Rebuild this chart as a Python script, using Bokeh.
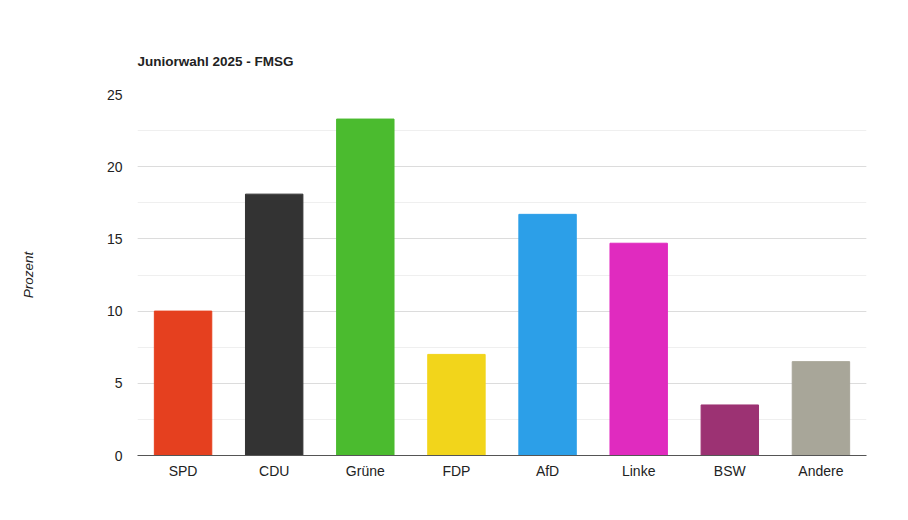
from bokeh.plotting import figure
from bokeh.models import ColumnDataSource, SingleIntervalTicker, FactorRange
from bokeh.embed import file_html
from bokeh.resources import INLINE

parties = ["SPD", "CDU", "Grüne", "FDP", "AfD", "Linke", "BSW", "Andere"]
values = [10.0, 18.1, 23.3, 7.0, 16.7, 14.7, 3.5, 6.5]
colors = ["#E5401F", "#333333", "#4BBB2F", "#F2D51B", "#2C9FE8", "#E02BBF", "#9C3273", "#A8A699"]

src = ColumnDataSource(dict(party=parties, value=values, color=colors))

p = figure(x_range=FactorRange(*parties, range_padding=0), y_range=(0, 25),
           width=900, height=512, output_backend="svg", toolbar_location=None,
           min_border_left=137, min_border_right=34, min_border_top=94, min_border_bottom=57,
           title="Juniorwahl 2025 - FMSG")
p.vbar(x="party", top="value", width=0.63, color="color", source=src)

p.title.text_font = "Liberation Sans"
p.title.text_font_size = "13.5px"
p.title.text_font_style = "bold"
p.title.text_color = "#222222"
p.title.standoff = 51
p.title.offset = 0

p.outline_line_color = None
p.xgrid.grid_line_color = None
p.yaxis.ticker = SingleIntervalTicker(interval=5, num_minor_ticks=2)
p.ygrid.grid_line_color = "#dcdcdc"
p.ygrid.minor_grid_line_color = "#efefef"

for ax in (p.xaxis, p.yaxis):
    ax.major_tick_line_color = None
    ax.minor_tick_line_color = None
    ax.major_label_text_font = "Liberation Sans"
    ax.major_label_text_font_size = "14px"
    ax.major_label_text_color = "#222222"
p.yaxis.axis_line_color = None
p.yaxis.major_label_standoff = 9
p.xaxis.axis_line_color = "#555555"
p.xaxis.major_label_standoff = 1

p.yaxis.axis_label = "Prozent"
p.yaxis.axis_label_text_font = "Liberation Sans"
p.yaxis.axis_label_text_font_style = "italic"
p.yaxis.axis_label_text_font_size = "13.5px"
p.yaxis.axis_label_text_color = "#222222"
p.yaxis.axis_label_standoff = 68

open("out.html", "w").write(file_html(p, INLINE))
